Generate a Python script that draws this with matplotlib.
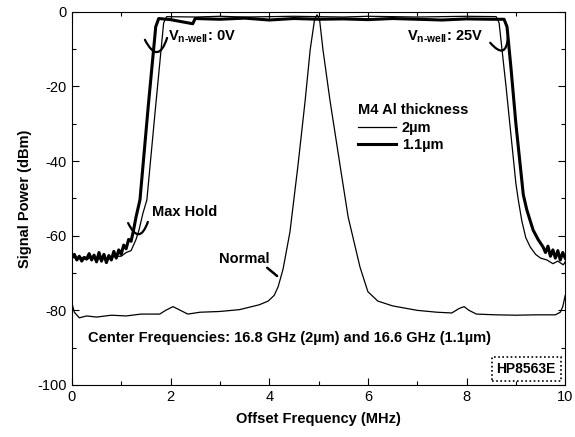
import matplotlib
matplotlib.use('Agg')
import matplotlib.pyplot as plt
from matplotlib.lines import Line2D
from matplotlib.ticker import MultipleLocator

plt.rcParams['font.family'] = ['Liberation Sans', 'DejaVu Sans']
plt.rcParams['axes.unicode_minus'] = False
plt.rcParams['mathtext.fontset'] = 'custom'
plt.rcParams['mathtext.rm'] = 'Liberation Sans:bold'
plt.rcParams['mathtext.it'] = 'Liberation Sans:bold'
plt.rcParams['mathtext.bf'] = 'Liberation Sans:bold'

# max hold trace, 1.1um (thick)
thick_x = [0.0, 0.05, 0.1, 0.15, 0.2, 0.25, 0.3, 0.35, 0.4, 0.45, 0.5, 0.55, 0.6, 0.65,
           0.7, 0.75, 0.8, 0.85, 0.9, 0.95, 1.0, 1.05, 1.1, 1.15, 1.2, 1.25, 1.3, 1.38,
           1.55, 1.7, 1.76, 2.0, 2.45, 2.5, 3.0, 3.5, 4.0, 4.5, 5.0, 5.5, 6.0, 6.5, 7.0,
           7.5, 8.0, 8.5, 8.76, 8.82, 8.9, 9.0, 9.15, 9.22, 9.29, 9.35, 9.45, 9.55, 9.6,
           9.65, 9.7, 9.75, 9.8, 9.85, 9.9, 9.95, 10.0]
thick_y = [-66, -65, -66.5, -65.5, -66.8, -65.8, -66.2, -64.8, -66.5, -65.2, -67, -64.5,
           -66.8, -65, -67.2, -65.3, -66.5, -64.2, -66, -63.8, -65, -62.5, -63.5, -61,
           -61.5, -58.5, -55, -50.4, -25, -4, -1.8, -2.1, -3.2, -1.8, -2.0, -1.7, -2.2,
           -1.8, -2.0, -1.9, -2.1, -1.8, -2.0, -2.2, -1.9, -2.0, -2.0, -4, -15, -30,
           -49, -53, -56, -58.5, -61, -63, -64.5, -62.8, -65.5, -63.8, -66, -64, -66.5,
           -64.5, -66]

# max hold trace, 2um (thin)
thin_x = [0.0, 0.1, 0.2, 0.3, 0.4, 0.5, 0.6, 0.7, 0.8, 0.9, 1.0, 1.1, 1.2, 1.3, 1.36,
          1.44, 1.52, 1.7, 1.86, 1.92, 2.5, 3.0, 3.5, 4.0, 4.5, 5.0, 5.5, 6.0, 6.5, 7.0,
          7.5, 8.0, 8.6, 8.66, 8.8, 9.0, 9.05, 9.12, 9.2, 9.29, 9.4, 9.5, 9.63, 9.75,
          9.85, 9.96, 10.0]
thin_y = [-65.5, -66.2, -65.8, -66.5, -65.5, -66.5, -66, -66.3, -65.8, -65.5, -65.5,
          -64.5, -64, -61, -58.5, -54, -50.4, -25, -3, -1.3, -1.4, -1.2, -1.4, -1.3,
          -1.2, -1.3, -1.4, -1.2, -1.3, -1.4, -1.3, -1.2, -1.3, -3, -20, -46, -50.5,
          -56, -60.5, -63, -65, -66, -66.5, -67.5, -66.8, -67.8, -67]

# normal sweep
normal_x = [0.0, 0.05, 0.15, 0.3, 0.5, 0.8, 1.1, 1.4, 1.78, 1.9, 2.05, 2.2, 2.35, 2.6,
            3.0, 3.4, 3.8, 3.98, 4.1, 4.18, 4.28, 4.42, 4.58, 4.73, 4.83, 4.92, 4.97,
            5.02, 5.09, 5.23, 5.44, 5.6, 5.84, 6.0, 6.2, 6.5, 7.0, 7.4, 7.7, 7.85, 7.95,
            8.05, 8.2, 8.6, 9.0, 9.4, 9.8, 9.9, 9.95, 10.0]
normal_y = [-78, -80.5, -82, -81.5, -81.8, -81.3, -81.5, -81, -81, -80, -79, -80, -81,
            -80.5, -80.3, -79.8, -78.5, -77.5, -76, -73.7, -69, -59, -41.5, -23.6, -10.2,
            -2, -0.8, -2, -10.2, -23.6, -41.5, -55, -68.4, -75, -77.5, -78.8, -80, -80.5,
            -80.7, -79.5, -79, -80, -81, -81.2, -81.3, -81.2, -81.2, -80.5, -79, -76]

fig = plt.figure(figsize=(5.75, 4.37), dpi=100)
ax = fig.add_axes([0.125, 0.119, 0.858, 0.854])

ax.plot(normal_x, normal_y, color='black', lw=0.9)
ax.plot(thin_x, thin_y, color='black', lw=0.9)
ax.plot(thick_x, thick_y, color='black', lw=2.2)

ax.set_xlim(0, 10)
ax.set_ylim(-100, 0)
ax.xaxis.set_major_locator(MultipleLocator(2))
ax.xaxis.set_minor_locator(MultipleLocator(1))
ax.yaxis.set_major_locator(MultipleLocator(20))
ax.yaxis.set_minor_locator(MultipleLocator(10))
ax.tick_params(which='both', direction='in', top=True, right=True, labelsize=10.5, width=0.8)
ax.tick_params(which='major', length=5)
ax.tick_params(which='minor', length=3)
for s in ax.spines.values():
    s.set_linewidth(0.8)

ax.set_xlabel('Offset Frequency (MHz)', fontsize=10.5, fontweight='bold', labelpad=6)
ax.set_ylabel('Signal Power (dBm)', fontsize=10.5, fontweight='bold', labelpad=4)

fs = 10.5
ax.text(1.95, -6.7, r'$V_{\text{n-well}}$: 0V', fontsize=fs, fontweight='bold', va='center')
ax.text(6.8, -6.7, r'$V_{\text{n-well}}$: 25V', fontsize=fs, fontweight='bold', va='center')
ax.text(1.62, -53.6, 'Max Hold', fontsize=fs, fontweight='bold', va='center')
ax.text(3.49, -66.2, 'Normal', fontsize=fs, fontweight='bold', va='center', ha='center')
ax.annotate('', xy=(4.16, -70.8), xytext=(3.96, -68.6),
            arrowprops=dict(arrowstyle='-', lw=1.8, color='black', shrinkA=0, shrinkB=0))
ax.text(0.32, -87.4, 'Center Frequencies: 16.8 GHz (2µm) and 16.6 GHz (1.1µm)',
        fontsize=fs, fontweight='bold', va='center')
ax.text(9.21, -95.8, 'HP8563E', fontsize=10, fontweight='bold', va='center', ha='center',
        bbox=dict(boxstyle='square,pad=0.35', fc='white', ec='black', lw=1.2, linestyle=(0, (1, 1.5))))

# U-shaped marks at the tuning edges
arc = dict(arrowstyle='-', lw=1.6, color='black', shrinkA=0, shrinkB=0,
           connectionstyle='arc3,rad=1.2')
ax.annotate('', xy=(1.93, -7.0), xytext=(1.48, -7.5), arrowprops=arc)
ax.annotate('', xy=(1.54, -56.3), xytext=(1.14, -56.6), arrowprops=arc)
ax.annotate('', xy=(8.84, -6.7), xytext=(8.48, -8.3), arrowprops=arc)

handles = [Line2D([], [], color='black', lw=0.9), Line2D([], [], color='black', lw=2.2)]
leg = ax.legend(handles, ['2µm', '1.1µm'], title='M4 Al thickness', loc='upper left',
                bbox_to_anchor=(0.565, 0.775), frameon=False, fontsize=fs,
                title_fontproperties={'weight': 'bold', 'size': fs},
                handlelength=2.6, handletextpad=0.4, borderpad=0, labelspacing=0.25,
                alignment='left')
for t in leg.get_texts():
    t.set_fontweight('bold')

fig.savefig('out.png', dpi=100)
